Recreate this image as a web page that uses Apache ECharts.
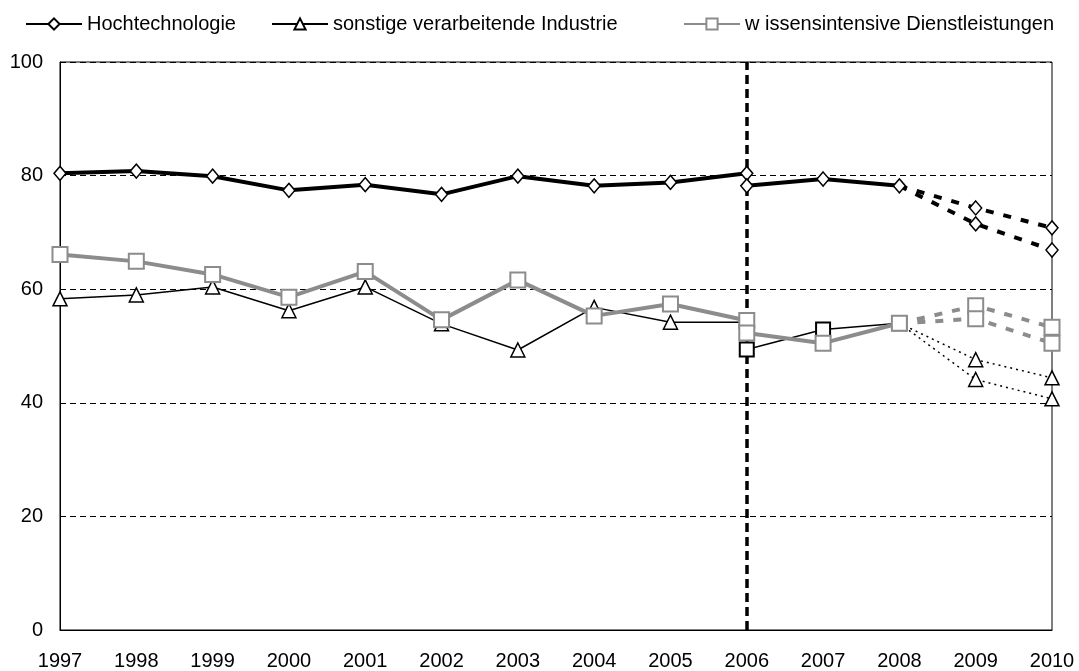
<!DOCTYPE html>
<html>
<head>
<meta charset="utf-8">
<script src="https://cdn.jsdelivr.net/npm/echarts@6/dist/echarts.min.js"></script>
<style>
  html, body { margin: 0; padding: 0; background: #fff; }
  #chart { width: 1079px; height: 671px; }
</style>
</head>
<body>
<div id="chart"></div>
<script>
  // years for each segment of the lines
  var oldYears = [1997, 1998, 1999, 2000, 2001, 2002, 2003, 2004, 2005, 2006];
  var newYears = [2006, 2007, 2008];
  var fcYears = [2008, 2009, 2010];

  var hochOld = [80.4, 80.8, 79.9, 77.4, 78.4, 76.7, 79.9, 78.2, 78.8, 80.4];
  var hochNew = [78.2, 79.4, 78.2];
  var hochFcA = [78.2, 74.3, 70.8];
  var hochFcB = [78.2, 71.5, 66.9];

  var sonstOld = [58.3, 59.0, 60.4, 56.2, 60.4, 53.9, 49.3, 56.8, 54.2, 54.2];
  var sonstNew = [49.4, 52.9, 54.0];
  var sonstFcA = [54.0, 47.6, 44.4];
  var sonstFcB = [54.0, 44.1, 40.7];

  var wissOld = [66.1, 64.9, 62.6, 58.6, 63.1, 54.6, 61.6, 55.3, 57.4, 54.5];
  var wissNew = [52.3, 50.5, 54.0];
  var wissFcA = [54.0, 57.1, 53.3];
  var wissFcB = [54.0, 54.8, 50.5];

  var names = ['Hochtechnologie', 'sonstige verarbeitende Industrie', 'w issensintensive Dienstleistungen'];
  var breakYear = 2006;

  var font = "'Liberation Sans', Arial, sans-serif";
  var gray = '#8c8c8c';

  // pair years with values; skip marker on points listed in noSym
  function pairs(xs, ys, noSym) {
    return xs.map(function (x, i) {
      var d = { value: [x, ys[i]] };
      if (noSym && noSym.indexOf(i) >= 0) d.symbol = 'none';
      return d;
    });
  }

  function line(name, data, opt) {
    return {
      name: name,
      type: 'line',
      data: data,
      symbol: opt.symbol,
      symbolSize: opt.size,
      showAllSymbol: true,
      z: opt.z,
      lineStyle: { color: opt.color, width: opt.width, type: opt.type || 'solid' },
      itemStyle: { color: '#fff', borderColor: opt.mcolor || opt.color, borderWidth: opt.bw || 1.5 },
      emphasis: { disabled: true },
      animation: false
    };
  }

  var hochStyle = { symbol: 'diamond', size: [12, 14], color: '#000', width: 4, z: 3 };
  var hochDash = Object.assign({}, hochStyle, { type: [8, 10] });
  var sonstStyle = { symbol: 'triangle', size: 14, color: '#000', width: 1.5, z: 2 };
  var sonstNewStyle = { symbol: 'rect', size: 14, color: '#000', width: 1.5, z: 2, bw: 2 };
  var sonstDot = Object.assign({}, sonstStyle, { type: [2, 4] });
  var wissStyle = { symbol: 'rect', size: 15, color: gray, width: 4, z: 4, bw: 2 };
  var wissDash = Object.assign({}, wissStyle, { type: [8, 10] });

  var series = [
    line(names[0], pairs(oldYears, hochOld), hochStyle),
    line(names[1], pairs(oldYears, sonstOld, [9]), sonstStyle),
    line(names[2], pairs(oldYears, wissOld), wissStyle),
    line(names[0], pairs(newYears, hochNew), hochStyle),
    line(names[1], pairs(newYears, sonstNew), sonstNewStyle),
    line(names[2], pairs(newYears, wissNew), wissStyle),
    line(names[0], pairs(fcYears, hochFcA, [0]), hochDash),
    line(names[0], pairs(fcYears, hochFcB, [0]), hochDash),
    line(names[1], pairs(fcYears, sonstFcA, [0]), sonstDot),
    line(names[1], pairs(fcYears, sonstFcB, [0]), sonstDot),
    line(names[2], pairs(fcYears, wissFcA, [0]), wissDash),
    line(names[2], pairs(fcYears, wissFcB, [0]), wissDash)
  ];

  // dashed break line at 2006
  series[0].markLine = {
    silent: true,
    symbol: 'none',
    label: { show: false },
    lineStyle: { color: '#000', width: 3.5, type: [9, 5] },
    data: [{ xAxis: breakYear }],
    z: 1
  };

  // one legend per entry so the uneven spacing of the original can be kept
  var legendLeft = [20, 266, 678];
  var legends = names.map(function (n, i) {
    return {
      data: [n],
      top: 9,
      left: legendLeft[i],
      itemWidth: 56,
      itemHeight: 14,
      textStyle: { fontSize: 20, color: '#000', fontFamily: font }
    };
  });

  var chart = echarts.init(document.getElementById('chart'));
  chart.setOption({
    backgroundColor: '#fff',
    textStyle: { fontFamily: font },
    legend: legends,
    grid: {
      left: 60, right: 27, top: 62, bottom: 40,
      show: true, borderColor: '#000', borderWidth: 1,
      containLabel: false
    },
    xAxis: {
      type: 'value',
      min: 1997, max: 2010, interval: 1,
      axisLine: { show: true, lineStyle: { color: '#000', width: 1 } },
      axisTick: { show: false },
      splitLine: { show: false },
      axisLabel: { color: '#000', fontSize: 20, margin: 21, fontFamily: font, formatter: function (v) { return String(v); } }
    },
    yAxis: {
      type: 'value',
      min: 0, max: 100, interval: 20,
      axisLine: { show: true, lineStyle: { color: '#000', width: 1 } },
      axisTick: { show: false },
      splitLine: { show: true, lineStyle: { color: '#000', width: 1, type: [6, 4] } },
      axisLabel: { color: '#000', fontSize: 20, margin: 17, fontFamily: font }
    },
    series: series
  });
</script>
</body>
</html>
